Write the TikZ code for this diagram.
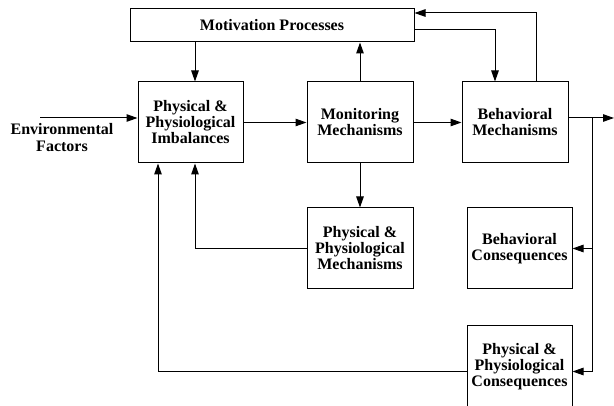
\documentclass[tikz,border=0pt]{standalone}
\usepackage{fontspec}
\setmainfont{Liberation Serif}
\usetikzlibrary{arrows.meta}
\begin{document}
\begin{tikzpicture}[x=1pt,y=-1pt,
  box/.style={draw,line width=1pt,inner sep=1pt,align=center,
    font=\fontsize{16}{16}\selectfont\bfseries},
  arr/.style={draw,line width=1pt,-{Triangle[length=11pt,width=7.5pt]}}]
\useasboundingbox (0,0) rectangle (614,406);
\node[box,minimum width=284pt,minimum height=33pt] (mot) at (272,25.5) {Motivation Processes};
\node[box,minimum width=105pt,minimum height=81pt] (imb) at (190.5,122.5) {Physical \&\\Physiological\\Imbalances};
\node[box,minimum width=106pt,minimum height=81pt] (mon) at (360,122.5) {Monitoring\\Mechanisms};
\node[box,minimum width=106pt,minimum height=81pt] (bm) at (515,122.5) {Behavioral\\Mechanisms};
\node[box,minimum width=106pt,minimum height=81pt] (pm) at (360,248.5) {Physical \&\\Physiological\\Mechanisms};
\node[box,minimum width=105pt,minimum height=81pt] (bc) at (519.5,248.5) {Behavioral\\Consequences};
\node[box,minimum width=105pt,minimum height=82pt] (pc) at (519.5,367) {Physical \&\\Physiological\\Consequences};
\node[align=center,font=\fontsize{16}{17}\selectfont\bfseries] (env) at (62,138) {Environmental\\Factors};
\coordinate (envstart) at (40,118);
\coordinate (out) at (614,118);
\coordinate (br) at (592,118);
% connectors
\draw[arr] ([xshift=4.5pt]imb.north |- mot.south) -- ([xshift=4.5pt]imb.north);
\draw[arr] (envstart) -- (envstart -| imb.west);
\draw[arr] (imb.east) -- (mon.west);
\draw[arr] (mon.north) -- (mon.north |- mot.south);
\draw[arr] (mon.east) -- (bm.west);
\draw[arr] ([yshift=-4.5pt]mot.east) -| ([xshift=-20pt]bm.north);
\draw[arr] ([xshift=21pt]bm.north) |- ([yshift=12.5pt]mot.east);
\draw[arr] ([yshift=4.5pt]bm.east) -- (out);
\draw[arr] (br) |- (bc.east);
\draw[arr] (br) |- ([yshift=-4.5pt]pc.east);
\draw[arr] (mon.south) -- (pm.north);
\draw[arr] (pm.west) -| ([xshift=4.5pt]imb.south);
\draw[arr] ([yshift=-4.5pt]pc.west) -| ([xshift=-32.5pt]imb.south);
\end{tikzpicture}
\end{document}
